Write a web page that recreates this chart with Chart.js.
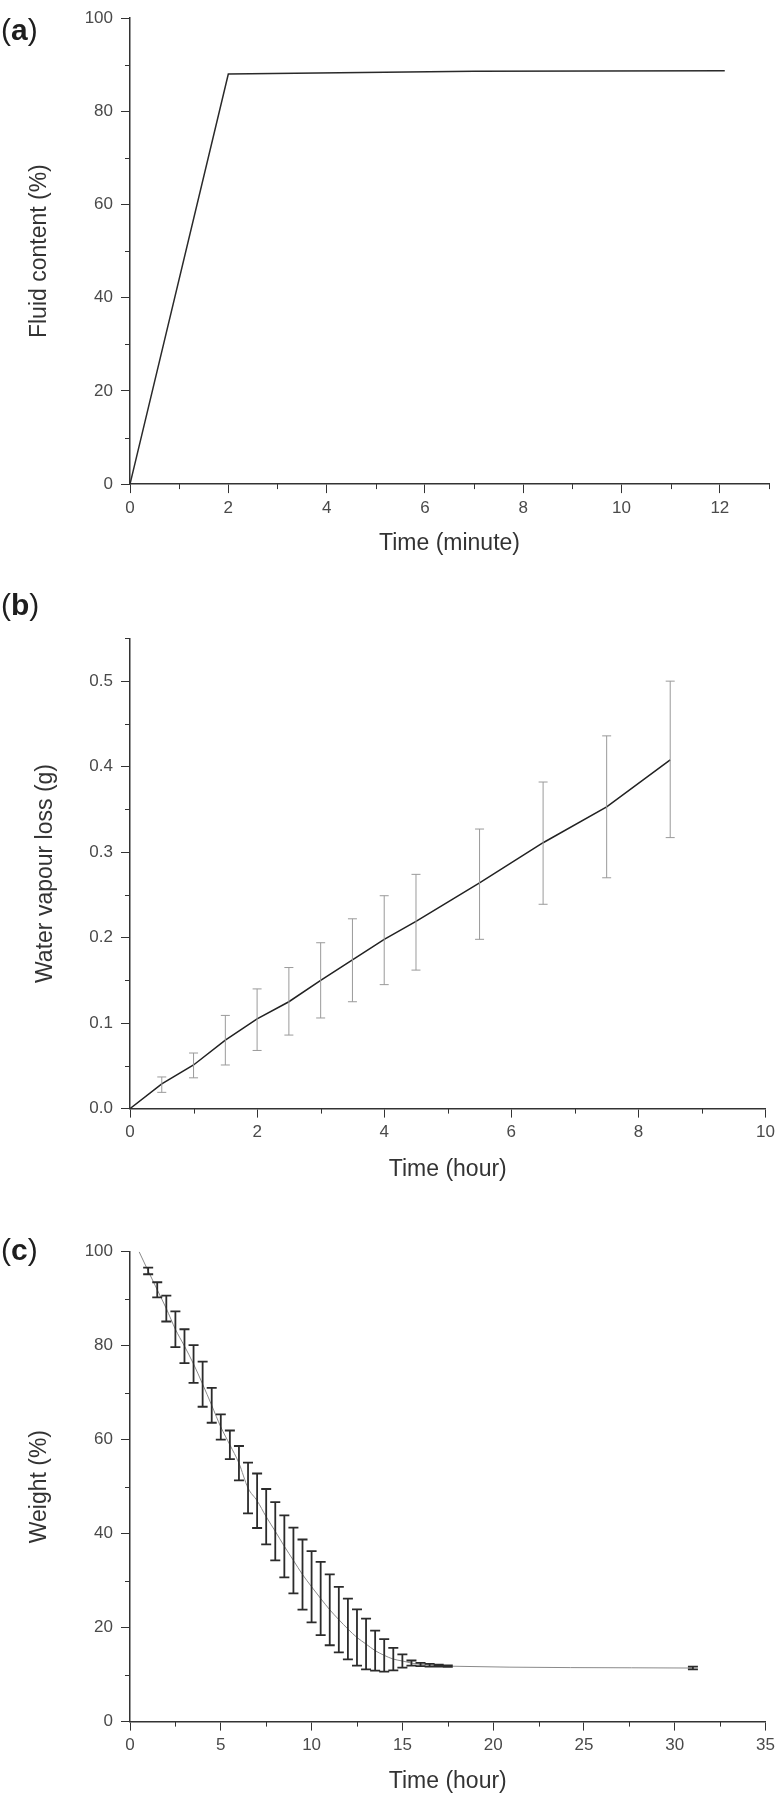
<!DOCTYPE html>
<html>
<head>
<meta charset="utf-8">
<script src="https://cdn.jsdelivr.net/npm/chart.js@4.4.1/dist/chart.umd.min.js"></script>
<style>
  body { margin: 0; background: #fff; }
  #page { position: relative; width: 780px; height: 1800px; }
  #page canvas { position: absolute; left: 0; }
  .tag { position: absolute; left: 1px; font: 30px/30px "Liberation Sans", Arial, sans-serif; color: #1e1e1e; }
</style>
</head>
<body>
<div id="page">
  <canvas id="chartA" width="780" height="600" style="top:0"></canvas>
  <canvas id="chartB" width="780" height="600" style="top:600px"></canvas>
  <canvas id="chartC" width="780" height="600" style="top:1200px"></canvas>
  <div class="tag" style="top:15px">(<b>a</b>)</div>
  <div class="tag" style="top:590px">(<b>b</b>)</div>
  <div class="tag" style="top:1235px">(<b>c</b>)</div>
</div>
<script>
// (a) fluid content vs time
const fluidTime = [0, 2, 7, 12.1];
const fluidContent = [0, 88.0, 88.6, 88.7];

// (b) water vapour loss, with error bar ends
const vapourTime = [0, 0.5, 1, 1.5, 2, 2.5, 3, 3.5, 4, 4.5, 5.5, 6.5, 7.5, 8.5];
const vapourLoss = [0, 0.029, 0.051, 0.080, 0.105, 0.125, 0.150, 0.174, 0.198, 0.219, 0.264, 0.311, 0.353, 0.408];
const vapourLow  = [0, 0.019, 0.036, 0.051, 0.068, 0.086, 0.106, 0.125, 0.145, 0.162, 0.198, 0.239, 0.270, 0.317];
const vapourHigh = [0, 0.037, 0.065, 0.109, 0.140, 0.165, 0.194, 0.222, 0.249, 0.274, 0.327, 0.382, 0.436, 0.500];

// (c) weight vs time, mean and half error
const weightTime = [0.5, 1, 1.5, 2, 2.5, 3, 3.5, 4, 4.5, 5, 5.5, 6, 6.5, 7, 7.5, 8, 8.5, 9, 9.5,
  10, 10.5, 11, 11.5, 12, 12.5, 13, 13.5, 14, 14.5, 15, 15.5, 16, 16.5, 17, 17.5, 31];
const weightMean = [100, 95.9, 91.9, 87.9, 83.5, 79.9, 76.1, 71.8, 67.3, 62.7, 58.9, 55.0, 49.7, 47.0, 43.6,
  40.5, 37.3, 34.3, 31.3, 28.7, 26.2, 23.8, 21.7, 19.7, 17.9, 16.5, 15.1, 14.1, 13.3, 12.9, 12.45,
  12.15, 12.0, 11.9, 11.8, 11.4];
const weightErr = [0, 0.7, 1.6, 2.75, 3.8, 3.6, 4.0, 4.8, 3.7, 2.7, 3.05, 3.65, 5.4, 5.8, 5.9,
  6.2, 6.6, 7.0, 7.45, 7.6, 7.8, 7.55, 6.95, 6.45, 6.0, 5.4, 4.25, 3.45, 2.4, 1.4, 0.55,
  0.35, 0.3, 0.2, 0.15, 0.3];

// tick labels
const aXTicks = [0, 2, 4, 6, 8, 10, 12];
const aYTicks = [0, 20, 40, 60, 80, 100];
const bXTicks = [0, 2, 4, 6, 8, 10];
const bYTicks = [0, 0.1, 0.2, 0.3, 0.4, 0.5];
const cXTicks = [0, 5, 10, 15, 20, 25, 30, 35];
const cYTicks = [0, 20, 40, 60, 80, 100];
// minor ticks
const aXMinor = [1, 3, 5, 7, 9, 11, 13];
const aYMinor = [10, 30, 50, 70, 90];
const bXMinor = [1, 3, 5, 7, 9];
const bYMinor = [0.05, 0.15, 0.25, 0.35, 0.45, 0.55];
const cXMinor = [2.5, 7.5, 12.5, 17.5, 22.5, 27.5, 32.5];
const cYMinor = [10, 30, 50, 70, 90];

const AXIS = '#333';
const FONT = '"Liberation Sans", Arial, sans-serif';
Chart.defaults.font.family = FONT;

const minorTicks = {
  id: 'minorTicks',
  afterDraw(chart, args, opts) {
    const { ctx, scales: { x, y } } = chart;
    ctx.save();
    ctx.strokeStyle = AXIS;
    ctx.lineWidth = 1;
    ctx.beginPath();
    opts.x.forEach(v => {
      const px = Math.round(x.getPixelForValue(v)) + 0.5;
      ctx.moveTo(px, y.bottom);
      ctx.lineTo(px, y.bottom + 5);
    });
    opts.y.forEach(v => {
      const py = Math.round(y.getPixelForValue(v)) + 0.5;
      ctx.moveTo(x.left, py);
      ctx.lineTo(x.left - 5, py);
    });
    ctx.stroke();
    ctx.restore();
  }
};

const errorBars = {
  id: 'errorBars',
  afterDatasetsDraw(chart, args, opts) {
    if (!opts.low) return;
    const { ctx, scales: { x, y } } = chart;
    ctx.save();
    ctx.strokeStyle = opts.color;
    ctx.lineWidth = opts.width;
    ctx.beginPath();
    opts.xs.forEach((t, i) => {
      const lo = opts.low[i], hi = opts.high[i];
      if (hi - lo <= 0) return;
      const px = x.getPixelForValue(t);
      const top = y.getPixelForValue(hi), bot = y.getPixelForValue(lo);
      ctx.moveTo(px, top); ctx.lineTo(px, bot);
      ctx.moveTo(px - opts.cap, top); ctx.lineTo(px + opts.cap, top);
      ctx.moveTo(px - opts.cap, bot); ctx.lineTo(px + opts.cap, bot);
    });
    ctx.stroke();
    ctx.restore();
  }
};

function toPoints(xs, ys) {
  return xs.map((v, i) => ({ x: v, y: ys[i] }));
}

function makePanel(id, p) {
  return new Chart(document.getElementById(id), {
    type: 'line',
    data: {
      datasets: [{
        data: toPoints(p.xs, p.ys),
        borderColor: p.lineColor,
        borderWidth: p.lineWidth,
        pointRadius: 0,
        tension: p.smooth ? 0.4 : 0,
        cubicInterpolationMode: p.smooth ? 'monotone' : 'default'
      }]
    },
    options: {
      responsive: false,
      animation: false,
      events: [],
      layout: { padding: { top: p.top, right: 11, left: 0, bottom: 0 } },
      plugins: {
        legend: { display: false },
        tooltip: { enabled: false },
        minorTicks: { x: p.xMinor, y: p.yMinor },
        errorBars: p.err || {}
      },
      scales: {
        x: {
          type: 'linear',
          min: p.xMin, max: p.xMax,
          afterBuildTicks: s => { s.ticks = p.xTicks.map(v => ({ value: v })); },
          afterFit: s => { s.height = 600 - p.bottom; },
          grid: { drawOnChartArea: false, tickLength: 9, color: AXIS, lineWidth: 1 },
          border: { display: true, color: AXIS, width: 1.5 },
          ticks: { color: '#4a4a4a', font: { size: 17 }, padding: 5, maxRotation: 0 },
          title: {
            display: true, text: p.xTitle, color: '#333',
            font: { size: 23 }, padding: { top: 0, bottom: 600 - 13.8 - p.xTitleY }
          }
        },
        y: {
          type: 'linear',
          min: p.yMin, max: p.yMax,
          afterBuildTicks: s => { s.ticks = p.yTicks.map(v => ({ value: v })); },
          afterFit: s => { s.width = 130; },
          grid: { drawOnChartArea: false, tickLength: 9, color: AXIS, lineWidth: 1 },
          border: { display: true, color: AXIS, width: 1.5 },
          ticks: { color: '#4a4a4a', font: { size: 17 }, padding: 8, callback: p.yFormat },
          title: {
            display: true, text: p.yTitle, color: '#333',
            font: { size: 23 }, padding: { top: p.yTitleX - 13.8, bottom: 0 }
          }
        }
      }
    },
    plugins: [minorTicks, errorBars]
  });
}

makePanel('chartA', {
  xs: fluidTime, ys: fluidContent, lineColor: '#2a2a2a', lineWidth: 1.5,
  top: 13.4, bottom: 484.1, xTitleY: 543.4, yTitleX: 40,
  xMin: 0, xMax: 13, yMin: 0, yMax: 100,
  xTicks: aXTicks, yTicks: aYTicks, xMinor: aXMinor, yMinor: aYMinor,
  xTitle: 'Time (minute)', yTitle: 'Fluid content (%)',
  yFormat: v => String(v)
});

makePanel('chartB', {
  xs: vapourTime, ys: vapourLoss, lineColor: '#222', lineWidth: 1.5,
  top: 38.4, bottom: 508.6, xTitleY: 570, yTitleX: 46,
  xMin: 0, xMax: 10, yMin: 0, yMax: 0.55,
  xTicks: bXTicks, yTicks: bYTicks, xMinor: bXMinor, yMinor: bYMinor,
  xTitle: 'Time (hour)', yTitle: 'Water vapour loss (g)',
  yFormat: v => v.toFixed(1),
  err: { xs: vapourTime, low: vapourLow, high: vapourHigh, color: '#9a9a9a', width: 1, cap: 4.5 }
});

makePanel('chartC', {
  xs: weightTime, ys: weightMean, lineColor: '#8a8a8a', lineWidth: 1, smooth: true,
  top: 51.7, bottom: 521.6, xTitleY: 581.7, yTitleX: 40,
  xMin: 0, xMax: 35, yMin: 0, yMax: 100,
  xTicks: cXTicks, yTicks: cYTicks, xMinor: cXMinor, yMinor: cYMinor,
  xTitle: 'Time (hour)', yTitle: 'Weight (%)',
  yFormat: v => String(v),
  err: {
    xs: weightTime,
    low: weightMean.map((m, i) => m - weightErr[i]),
    high: weightMean.map((m, i) => m + weightErr[i]),
    color: '#2b2b2b', width: 1.8, cap: 5
  }
});
</script>
</body>
</html>
